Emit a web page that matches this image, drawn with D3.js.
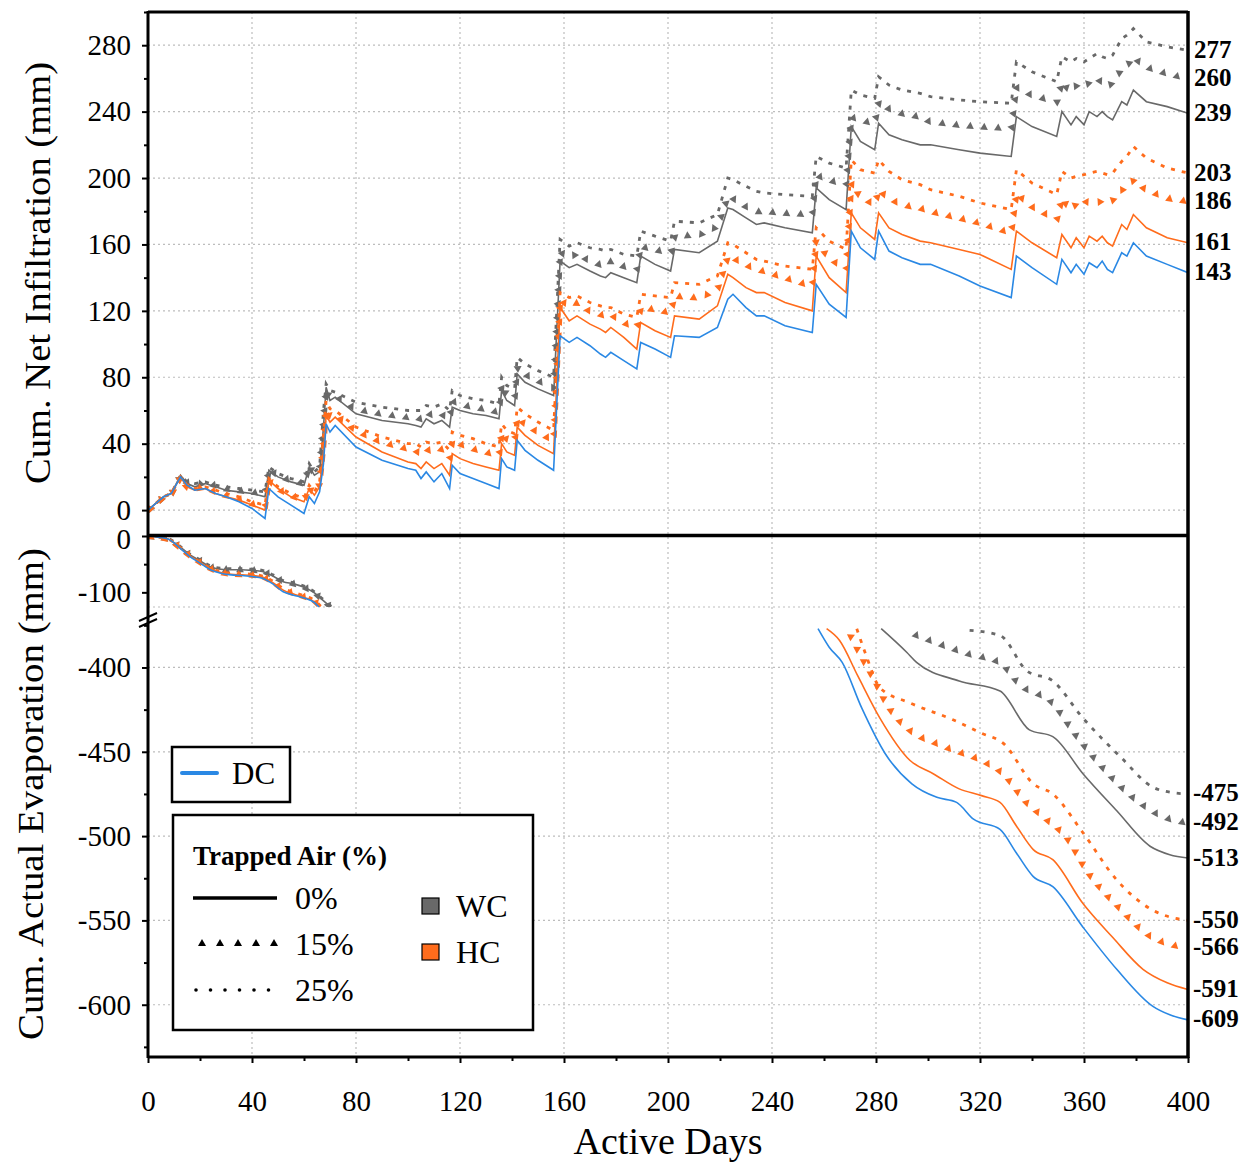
<!DOCTYPE html>
<html>
<head>
<meta charset="utf-8">
<script src="https://cdn.jsdelivr.net/npm/d3@7"></script>
<style>
  body { margin: 0; background: #fff; }
  text { font-family: "Liberation Serif", "Times New Roman", serif; fill: #000; }
</style>
</head>
<body>
<svg id="chart" width="1260" height="1162"></svg>
<script>

// ---- data: cumulative net infiltration (mm), shared day grid ----
var infilDays = [0,3,6,9,12.5,15,18,22,26,30,
  35,40,45,46.5,50,55,60,62,64,66,
  67.5,68.5,70,72,80,90,100,103,105,107,
  110,113,116,117,120,125,130,135,136,138,
  141,142,145,150,156,158.5,162,165,170,174,
  176,178,183,188,189.5,195,201,202.5,212,219,
  223,225,230,234,237,245,255.5,257,262,268.5,
  270.5,274,279.5,281,285,290,297,301,312,320,
  332,334,340,349.5,351.5,355,357,360,362,365,
  367,369,371,374.5,376.5,379,384,392,400];

var infilDC = [0,4,8,10,20,15,12,13,10,8,
  5,1,-5,13,8,3,-2,8,4,11,
  28,52,47,51,38,30,25,24,19,23,
  17,22,13,27,22,19,16,13,31,26,
  24,42,36,30,24,105,101,104,99,94,
  92,95,90,85,101,97,92,105,104,110,
  127,130,122,117,117,111,107,136,124,116,
  168,158,151,168,156,152,148,148,141,135,
  128,153,146,136,151,143,148,142,149,146,
  150,145,143,155,153,161,153,148,143];

var infilWC0 = [0,4,8,10,21,16,14,16,14,12,
  11,10,8,24,20,17,15,26,21,23,
  50,74,66,68,58,54,52,51,50,55,
  52,54,50,62,60,58,57,55,72,66,
  63,82,77,73,69,150,146,148,144,141,
  140,143,140,137,153,148,144,157,155,162,
  182,181,176,172,173,170,167,194,187,181,
  231,222,217,233,226,223,220,220,217,215,
  213,237,231,225,240,232,237,232,240,237,
  240,237,235,246,244,253,246,243,239];

var infilWC15 = [0,4,8,10,21,17,15,17,15,13,
  12,11,10,25,21,18,16,27,22,25,
  55,73,68,69,61,58,56,56,55,59,
  57,58,55,66,64,62,61,59,76,70,
  67,86,82,78,74,156,152,155,150,148,
  147,150,147,145,159,157,155,165,166,171,
  189,188,183,180,180,179,178,202,199,196,
  237,235,233,246,242,239,237,234,232,231,
  230,255,250,246,258,252,256,255,258,260,
  258,255,258,266,268,273,267,263,260];

var infilWC25 = [0,4,8,10,21,17,16,17,15,14,
  13,12,11,26,22,19,17,28,23,26,
  60,76,72,71,65,62,60,60,60,63,
  62,64,60,72,69,67,66,64,80,75,
  73,92,88,84,80,163,159,161,158,157,
  156,157,154,153,168,165,162,174,173,178,
  200,199,195,192,191,190,189,213,209,206,
  253,250,248,261,256,253,251,249,247,246,
  245,270,264,258,273,270,272,270,272,275,
  273,272,274,284,286,290,282,279,277];

var infilHC0 = [0,4,8,10,20,14,12,13,10,8,
  6,3,0,18,13,8,5,13,9,14,
  35,57,53,56,44,35,29,28,25,29,
  25,28,21,34,31,28,26,24,40,35,
  33,50,45,39,34,122,114,117,112,109,
  107,110,104,97,113,108,104,117,115,123,
  142,140,134,131,131,125,120,153,140,131,
  179,170,163,179,170,166,162,161,157,154,
  145,168,161,152,166,158,164,158,165,162,
  165,161,159,172,169,178,170,164,161];

var infilHC15 = [0,4,8,10,20,14,13,14,11,9,
  7,4,2,18,13,9,6,14,10,16,
  40,61,57,58,48,41,37,36,34,37,
  35,37,31,42,40,37,35,33,47,43,
  41,56,52,47,42,127,123,125,120,118,
  117,118,113,110,122,121,119,129,128,133,
  153,152,148,145,144,140,135,162,152,145,
  197,189,184,193,188,184,182,180,176,173,
  167,191,183,175,188,181,185,187,185,185,
  187,186,187,193,195,199,193,188,186];

var infilHC25 = [0,4,8,10,20,15,13,14,12,10,
  8,5,3,19,14,10,7,15,11,17,
  45,66,61,60,50,44,40,40,38,41,
  40,41,36,47,45,43,40,38,52,48,
  46,62,58,53,48,131,128,129,125,123,
  122,122,118,116,130,129,128,137,136,141,
  161,160,155,151,150,147,145,170,162,157,
  211,205,203,211,204,199,196,193,189,185,
  181,205,197,190,204,200,201,202,203,204,
  203,202,203,210,213,219,212,206,203];

// ---- data: cumulative actual evaporation (mm), early part (above the break) ----
var evapEarlyDays = [0,4,8,12,16,20,24,28,32,36,40,44,48,52,56,60,64,67,71];
var evapEarlyDC   = [0,-2,-6,-20,-36,-48,-60,-66,-69,-70,-72,-75,-85,-99,-105,-110,-118,-132,-145];
var evapEarlyHC0  = [0,-2,-6,-20,-35,-47,-58,-65,-68,-69,-70,-73,-83,-96,-103,-109,-117,-130,-145];
var evapEarlyHC15 = [0,-2,-6,-19,-34,-46,-57,-64,-67,-68,-69,-72,-81,-94,-101,-107,-115,-128,-143];
var evapEarlyHC25 = [0,-2,-6,-19,-34,-46,-57,-63,-66,-67,-68,-71,-80,-93,-100,-106,-114,-127,-142];
var evapEarlyWC0  = [0,-2,-6,-18,-33,-44,-55,-59,-60,-60,-61,-63,-71,-81,-85,-91,-101,-113,-129];
var evapEarlyWC15 = [0,-2,-5,-18,-32,-43,-54,-58,-59,-59,-60,-62,-70,-80,-84,-90,-100,-112,-128];
var evapEarlyWC25 = [0,-2,-5,-17,-32,-42,-53,-57,-58,-58,-59,-61,-69,-79,-83,-89,-99,-111,-127];

// ---- late part (below the break) ----
var evapLateDaysDC = [257.7,262,267,274.5,283.5,293.8,303.4,311,317.5,327.7,334,340.5,348,359.6,372.6,386.5,393,400];
var evapLateDC     = [-377,-388,-397,-424,-451,-469,-477,-480,-490,-496,-510,-524,-530,-554,-579,-601,-606,-609];
var evapLateDaysHC0 = [261,266,273,281.5,293,302,312,320.6,327.7,334,340.5,348,359.6,371,382.7,392,400];
var evapLateHC0     = [-377,-384,-405,-430,-455,-463,-472,-476,-480,-494,-508,-514,-540,-560,-579,-587,-591];
var evapLateDaysHC15 = [270,272.6,280,284,293,303.4,312,320.6,329,338,345.7,353.5,361,374,385.4,393,400];
var evapLateHC15     = [-380,-388,-409,-421,-437,-445,-450,-455,-463,-480,-490,-501,-520,-543,-559,-564,-566];
var evapLateDaysHC25 = [272.6,276,281.5,293,309.6,320.6,329,340.5,348,359.6,372.6,386.5,393,400];
var evapLateHC25     = [-377,-392,-412,-421,-431,-439,-445,-469,-475,-498,-526,-544,-548,-550];
var evapLateDaysWC0 = [282,291.8,295.6,312,327.7,339,348,359.6,372.6,385.4,393,400];
var evapLateWC0     = [-377,-391,-397,-408,-414,-437,-441,-463,-485,-506,-511,-513];
var evapLateDaysWC15 = [294.4,304.6,316,327.7,335.4,348,357,366,379,390,400];
var evapLateWC15     = [-380,-386,-392,-397,-410,-421,-440,-457,-477,-488,-492];
var evapLateDaysWC25 = [316,327.7,338,348,359.6,374,386.5,393,400];
var evapLateWC25     = [-378,-381,-402,-408,-430,-453,-471,-474,-475];

// end labels and ticks
var endLabelsTop = ["277","260","239","203","186","161","143"];
var endLabelsBottom = ["-475","-492","-513","-550","-566","-591","-609"];
var xTicks = [0,40,80,120,160,200,240,280,320,360,400];
var yTopTicks = [0,40,80,120,160,200,240,280];
var yEvapHiTicks = [0,-100];
var yEvapLoTicks = [-400,-450,-500,-550,-600];

var COLORS = { DC: '#2a88e4', WC: '#696969', HC: '#ff6c1c' };

var series = [
  { name: 'WC25', color: COLORS.WC, style: 'dot', infil: infilWC25, early: evapEarlyWC25, lateDays: evapLateDaysWC25, late: evapLateWC25 },
  { name: 'WC15', color: COLORS.WC, style: 'tri', infil: infilWC15, early: evapEarlyWC15, lateDays: evapLateDaysWC15, late: evapLateWC15 },
  { name: 'WC0',  color: COLORS.WC, style: 'solid', infil: infilWC0, early: evapEarlyWC0, lateDays: evapLateDaysWC0, late: evapLateWC0 },
  { name: 'HC25', color: COLORS.HC, style: 'dot', infil: infilHC25, early: evapEarlyHC25, lateDays: evapLateDaysHC25, late: evapLateHC25 },
  { name: 'HC15', color: COLORS.HC, style: 'tri', infil: infilHC15, early: evapEarlyHC15, lateDays: evapLateDaysHC15, late: evapLateHC15 },
  { name: 'HC0',  color: COLORS.HC, style: 'solid', infil: infilHC0, early: evapEarlyHC0, lateDays: evapLateDaysHC0, late: evapLateHC0 },
  { name: 'DC',   color: COLORS.DC, style: 'solid', infil: infilDC, early: evapEarlyDC, lateDays: evapLateDaysDC, late: evapLateDC }
];

var X0 = 148, X1 = 1188;
var svg = d3.select('#chart');
svg.append('rect').attr('width', 1260).attr('height', 1162).attr('fill', '#fff');

var x = d3.scaleLinear().domain([0, 400]).range([X0, X1]);
var yTop = d3.scaleLinear().domain([-15, 300]).range([535, 12]);
var yEvapHi = d3.scaleLinear().domain([-126, 0]).range([607, 536]);
var yEvapLo = d3.scaleLinear().domain([-631, -376]).range([1057, 627]);

var defs = svg.append('defs');
function clip(id, y0, y1){
  defs.append('clipPath').attr('id', id).append('rect')
    .attr('x', X0).attr('y', y0).attr('width', X1 - X0).attr('height', y1 - y0);
}
clip('clipTop', 12, 535);
clip('clipHi', 536, 607);
clip('clipLo', 627, 1057);

// ---- grid ----
var grid = svg.append('g').attr('stroke', '#bdbdbd').attr('stroke-width', 1.2).attr('stroke-dasharray', '2,3');
xTicks.slice(1, -1).forEach(function(d){
  grid.append('line').attr('x1', x(d)).attr('x2', x(d)).attr('y1', 12).attr('y2', 1057);
});
yTopTicks.forEach(function(d){
  grid.append('line').attr('x1', X0).attr('x2', X1).attr('y1', yTop(d)).attr('y2', yTop(d));
});
yEvapLoTicks.forEach(function(d){
  grid.append('line').attr('x1', X0).attr('x2', X1).attr('y1', yEvapLo(d)).attr('y2', yEvapLo(d));
});
grid.append('line').attr('x1', X0).attr('x2', X1).attr('y1', yEvapHi.range()[0]).attr('y2', yEvapHi.range()[0]);

// ---- series ----
function drawSeries(g, days, vals, s, yScale, curve){
  var pts = days.map(function(d, i){ return [d, vals[i]]; });
  var line = d3.line().curve(curve || d3.curveLinear)
    .x(function(d){ return x(d[0]); }).y(function(d){ return yScale(d[1]); });
  var p = g.append('path').datum(pts).attr('d', line).attr('fill', 'none');
  if(s.style === 'solid'){
    p.attr('stroke', s.color).attr('stroke-width', 1.6);
  } else if(s.style === 'dot'){
    p.attr('stroke', s.color).attr('stroke-width', 2.8).attr('stroke-dasharray', '4,7');
  } else {
    p.attr('stroke', 'none');
    var node = p.node(), len = node.getTotalLength();
    for(var l = 3; l < len; l += 14){
      var a = node.getPointAtLength(l), b = node.getPointAtLength(Math.min(len, l + 1));
      var ang = Math.atan2(b.y - a.y, b.x - a.x) * 180 / Math.PI;
      g.append('path').attr('d', 'M0,-4L3.9,3L-3.9,3Z').attr('fill', s.color)
        .attr('transform', 'translate(' + a.x + ',' + a.y + ') rotate(' + ang + ')');
    }
  }
}

var gTop = svg.append('g').attr('clip-path', 'url(#clipTop)');
var gHi = svg.append('g').attr('clip-path', 'url(#clipHi)');
var gLo = svg.append('g').attr('clip-path', 'url(#clipLo)');
series.forEach(function(s){
  drawSeries(gTop, infilDays, s.infil, s, yTop);
  drawSeries(gHi, evapEarlyDays, s.early, s, yEvapHi, d3.curveMonotoneX);
  drawSeries(gLo, s.lateDays, s.late, s, yEvapLo, d3.curveMonotoneX);
});

// ---- axes ----
function styleAxis(g, size){
  g.select('.domain').remove();
  g.selectAll('.tick line').attr('stroke', '#000').attr('stroke-width', 2);
  g.selectAll('text').style('font-size', size + 'px').style('font-family', '"Liberation Serif", serif');
}
function leftAxis(scale, major, minor){
  var g = svg.append('g').attr('transform', 'translate(' + X0 + ',0)');
  g.call(d3.axisLeft(scale).tickValues(major).tickSize(6).tickPadding(11).tickFormat(function(d){ return String(d); }));
  styleAxis(g, 29);
  var m = svg.append('g').attr('transform', 'translate(' + X0 + ',0)');
  m.call(d3.axisLeft(scale).tickValues(minor).tickSize(4).tickFormat(''));
  styleAxis(m, 29);
  return g;
}
leftAxis(yTop, yTopTicks, [20,60,100,140,180,220,260,300]);
var gHiAxis = leftAxis(yEvapHi, yEvapHiTicks, [-50]);
// the two zero labels sit close together, as in the original figure
gHiAxis.selectAll('.tick text').attr('dy', function(d){ return d === 0 ? '0.42em' : '0.32em'; });
leftAxis(yEvapLo, yEvapLoTicks, [-425,-475,-525,-575,-625,-375]);

var gx = svg.append('g').attr('transform', 'translate(0,1057)');
gx.call(d3.axisBottom(x).tickValues(xTicks).tickSize(6).tickPadding(27).tickFormat(function(d){ return String(d); }));
styleAxis(gx, 29);
var gxm = svg.append('g').attr('transform', 'translate(0,1057)');
gxm.call(d3.axisBottom(x).tickValues(d3.range(20, 400, 40)).tickSize(4).tickFormat(''));
styleAxis(gxm, 29);

// ---- frame ----
var frame = svg.append('g').attr('stroke', '#000');
frame.append('line').attr('x1', X0).attr('x2', X0).attr('y1', 11).attr('y2', 1058).attr('stroke-width', 3);
frame.append('line').attr('x1', X1).attr('x2', X1).attr('y1', 11).attr('y2', 1058).attr('stroke-width', 3.5);
frame.append('line').attr('x1', X0).attr('x2', X1).attr('y1', 12).attr('y2', 12).attr('stroke-width', 3);
frame.append('line').attr('x1', X0).attr('x2', X1).attr('y1', 535.5).attr('y2', 535.5).attr('stroke-width', 3.5);
frame.append('line').attr('x1', X0).attr('x2', X1).attr('y1', 1057).attr('y2', 1057).attr('stroke-width', 3);
// axis break marks
frame.append('line').attr('x1', 139).attr('y1', 621).attr('x2', 157).attr('y2', 613).attr('stroke-width', 2);
frame.append('line').attr('x1', 139).attr('y1', 627).attr('x2', 157).attr('y2', 619).attr('stroke-width', 2);

// ---- end labels ----
endLabelsTop.forEach(function(t){
  svg.append('text').attr('x', 1194).attr('y', yTop(+t)).attr('dy', '0.3em')
    .style('font-size', '25px').style('font-weight', 'bold').text(t);
});
endLabelsBottom.forEach(function(t){
  svg.append('text').attr('x', 1193).attr('y', yEvapLo(+t)).attr('dy', '0.3em')
    .style('font-size', '25px').style('font-weight', 'bold').text(t);
});

// ---- axis titles ----
svg.append('text').attr('transform', 'translate(50,273) rotate(-90)').attr('text-anchor', 'middle')
  .attr('textLength', 422).attr('lengthAdjust', 'spacingAndGlyphs')
  .style('font-size', '36px').text('Cum. Net Infiltration (mm)');
svg.append('text').attr('transform', 'translate(43,794) rotate(-90)').attr('text-anchor', 'middle')
  .attr('textLength', 492).attr('lengthAdjust', 'spacingAndGlyphs')
  .style('font-size', '36px').text('Cum. Actual Evaporation (mm)');
svg.append('text').attr('x', 668).attr('y', 1154).attr('text-anchor', 'middle')
  .style('font-size', '38px').text('Active Days');

// ---- legends ----
var lg = svg.append('g');
lg.append('rect').attr('x', 172).attr('y', 747).attr('width', 118).attr('height', 55)
  .attr('fill', '#fff').attr('stroke', '#000').attr('stroke-width', 2.5);
lg.append('line').attr('x1', 182).attr('x2', 217).attr('y1', 773).attr('y2', 773)
  .attr('stroke', COLORS.DC).attr('stroke-width', 4).attr('stroke-linecap', 'round');
lg.append('text').attr('x', 232).attr('y', 773).attr('dy', '0.35em').style('font-size', '31px').text('DC');

lg.append('rect').attr('x', 173).attr('y', 815).attr('width', 360).attr('height', 215)
  .attr('fill', '#fff').attr('stroke', '#000').attr('stroke-width', 2.5);
lg.append('text').attr('x', 193).attr('y', 856).attr('dy', '0.35em').style('font-size', '27px')
  .style('font-weight', 'bold').text('Trapped Air (%)');
lg.append('line').attr('x1', 193).attr('x2', 277).attr('y1', 898).attr('y2', 898)
  .attr('stroke', '#000').attr('stroke-width', 3.5);
d3.range(5).forEach(function(i){
  lg.append('path').attr('d', 'M0,-4L4,3L-4,3Z').attr('transform', 'translate(' + (202 + i * 18) + ',943)');
});
d3.range(6).forEach(function(i){
  lg.append('circle').attr('cx', 196 + i * 14.5).attr('cy', 990).attr('r', 1.8);
});
var trapLabels = ['0%', '15%', '25%'];
trapLabels.forEach(function(t, i){
  lg.append('text').attr('x', 295).attr('y', 898 + i * 46).attr('dy', '0.35em').style('font-size', '32px').text(t);
});
var groupLabels = ['WC', 'HC'];
groupLabels.forEach(function(t, i){
  lg.append('rect').attr('x', 422).attr('y', 898 + i * 46).attr('width', 17).attr('height', 16)
    .attr('fill', COLORS[t]).attr('stroke', '#000').attr('stroke-width', 1.2);
  lg.append('text').attr('x', 456).attr('y', 906 + i * 46).attr('dy', '0.35em').style('font-size', '32px').text(t);
});

</script>
</body>
</html>
